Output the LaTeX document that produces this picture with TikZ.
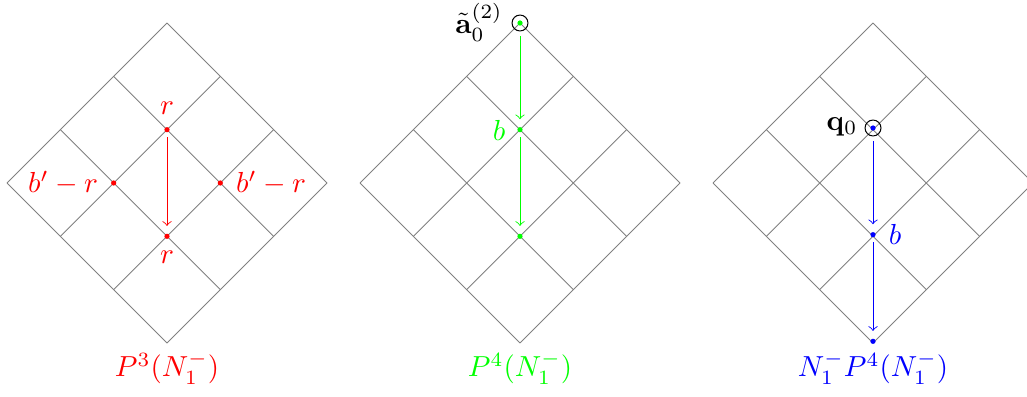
\documentclass[tikz,border=0pt]{standalone}
\begin{document}
\begin{tikzpicture}[x=0.345pt,y=-0.345pt]
\tikzset{
  gridline/.style={gray, line width=0.3pt},
  dot/.style={circle, inner sep=0pt, minimum size=1.8pt},
  ring/.style={circle, draw=black, inner sep=0pt, minimum size=5.5pt, line width=0.35pt},
  flow/.style={->, line width=0.3pt, shorten <=1.5pt, shorten >=2.5pt},
  lab/.style={inner sep=0pt},
}
\useasboundingbox (0,0) rectangle (1027,396);
\clip (0,0) rectangle (1027,396);
\def\s{53.333}
\foreach \cx in {167,520,873} {
  \foreach \i in {0,1,2,3} {
    \draw[gridline] (\cx-160+\i*\s, 183+\i*\s) -- (\cx+\i*\s, 23+\i*\s);
    \draw[gridline] (\cx-160+\i*\s, 183-\i*\s) -- (\cx+\i*\s, 343-\i*\s);
  }
}
% diamond 1
\node[dot, fill=red] (r1) at (167,129.67) {};
\node[dot, fill=red] (r2) at (167,236.33) {};
\node[dot, fill=red] (bl) at (113.67,183) {};
\node[dot, fill=red] (br) at (220.33,183) {};
\draw[flow, red] (r1) -- (r2);
\node[lab, red] (lr1) at (167,108) {$r$};
\node[lab, red] (lr2) at (167,257) {$r$};
\node[lab, red] (lbl) at (63,183) {$b'-r$};
\node[lab, red] (lbr) at (271,183) {$b'-r$};
\node[red] (t1) at (167,368) {$P^3(N_1^-)$};
% diamond 2
\node[dot, fill=green] (a2) at (520,23) {};
\node[ring] (a2r) at (520,23) {};
\node[dot, fill=green] (b2) at (520,129.67) {};
\node[dot, fill=green] (c2) at (520,236.33) {};
\draw[flow, green] (a2r) -- (b2);
\draw[flow, green] (b2) -- (c2);
\node[lab] (la2) at (479,22) {$\tilde{\mathbf{a}}_0^{(2)}$};
\node[lab, green] (lb2) at (499,130) {$b$};
\node[green] (t2) at (520,368) {$P^4(N_1^-)$};
% diamond 3
\node[dot, fill=blue] (q3) at (873,128) {};
\node[ring] (q3r) at (873,128) {};
\node[dot, fill=blue] (b3) at (873,234.67) {};
\node[dot, fill=blue] (c3) at (873,341.33) {};
\draw[flow, blue] (q3r) -- (b3);
\draw[flow, blue] (b3) -- (c3);
\node[lab] (lq3) at (842,127) {$\mathbf{q}_0$};
\node[lab, blue] (lb3) at (895,234) {$b$};
\node[blue] (t3) at (873,368) {$N_1^-P^4(N_1^-)$};
\end{tikzpicture}
\end{document}
